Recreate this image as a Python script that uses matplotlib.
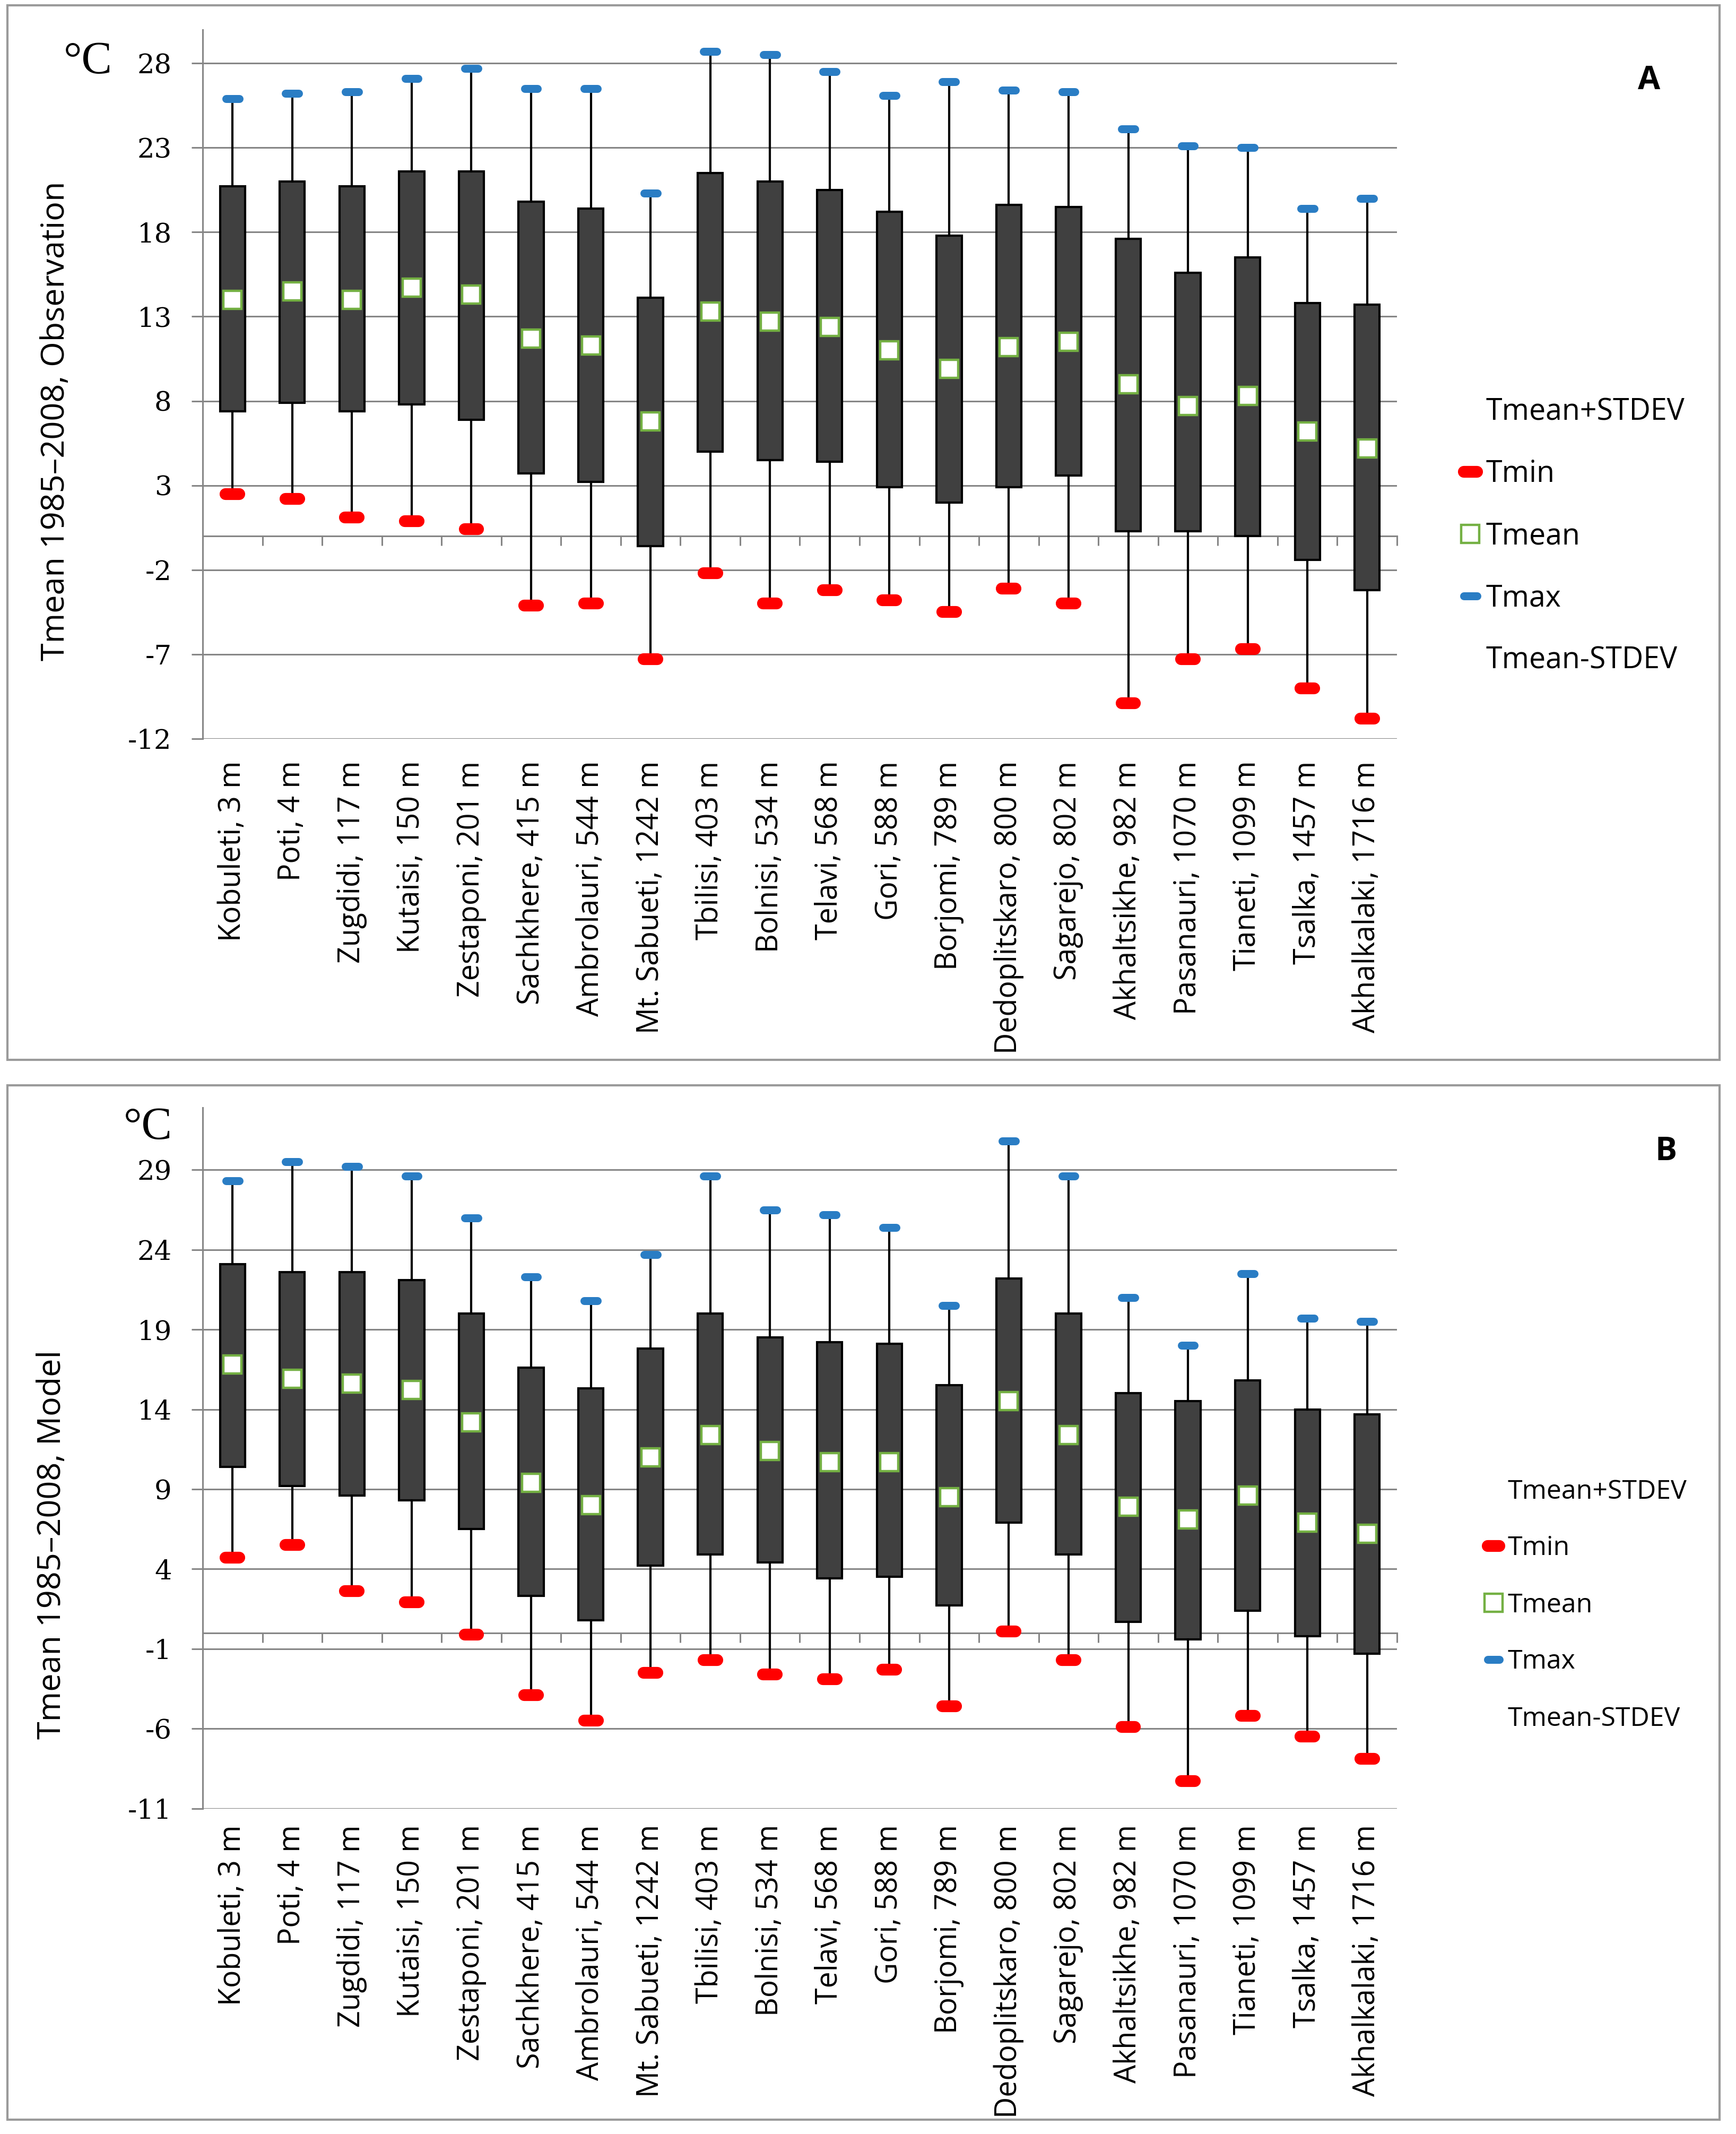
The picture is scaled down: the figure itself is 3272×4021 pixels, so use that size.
import matplotlib
matplotlib.use('Agg')
import matplotlib.pyplot as plt
from matplotlib.lines import Line2D
from matplotlib.patches import Rectangle

stations = ["Kobuleti, 3 m", "Poti, 4 m", "Zugdidi, 117 m", "Kutaisi, 150 m", "Zestaponi, 201 m",
            "Sachkhere, 415 m", "Ambrolauri, 544 m", "Mt. Sabueti, 1242 m", "Tbilisi, 403 m",
            "Bolnisi, 534 m", "Telavi, 568 m", "Gori, 588 m", "Borjomi, 789 m", "Dedoplitskaro, 800 m",
            "Sagarejo, 802 m", "Akhaltsikhe, 982 m", "Pasanauri, 1070 m", "Tianeti, 1099 m",
            "Tsalka, 1457 m", "Akhalkalaki, 1716 m"]

# Panel A: observation
obs_tmax = [25.9, 26.2, 26.3, 27.1, 27.7, 26.5, 26.5, 20.3, 28.7, 28.5, 27.5, 26.1, 26.9, 26.4, 26.3,
            24.1, 23.1, 23.0, 19.4, 20.0]
obs_upper = [20.7, 21.0, 20.7, 21.6, 21.6, 19.8, 19.4, 14.1, 21.5, 21.0, 20.5, 19.2, 17.8, 19.6, 19.5,
             17.6, 15.6, 16.5, 13.8, 13.7]
obs_mean = [14.0, 14.5, 14.0, 14.7, 14.3, 11.7, 11.3, 6.8, 13.3, 12.7, 12.4, 11.0, 9.9, 11.2, 11.5,
            9.0, 7.7, 8.3, 6.2, 5.2]
obs_lower = [7.4, 7.9, 7.4, 7.8, 6.9, 3.7, 3.2, -0.6, 5.0, 4.5, 4.4, 2.9, 2.0, 2.9, 3.6,
             0.3, 0.3, 0.0, -1.4, -3.2]
obs_tmin = [2.5, 2.2, 1.1, 0.9, 0.4, -4.1, -4.0, -7.3, -2.2, -4.0, -3.2, -3.8, -4.5, -3.1, -4.0,
            -9.9, -7.3, -6.7, -9.0, -10.8]

# Panel B: model
mod_tmax = [28.3, 29.5, 29.2, 28.6, 26.0, 22.3, 20.8, 23.7, 28.6, 26.5, 26.2, 25.4, 20.5, 30.8, 28.6,
            21.0, 18.0, 22.5, 19.7, 19.5]
mod_upper = [23.1, 22.6, 22.6, 22.1, 20.0, 16.6, 15.3, 17.8, 20.0, 18.5, 18.2, 18.1, 15.5, 22.2, 20.0,
             15.0, 14.5, 15.8, 14.0, 13.7]
mod_mean = [16.8, 15.9, 15.6, 15.2, 13.2, 9.4, 8.0, 11.0, 12.4, 11.4, 10.7, 10.7, 8.5, 14.5, 12.4,
            7.9, 7.1, 8.6, 6.9, 6.2]
mod_lower = [10.4, 9.2, 8.6, 8.3, 6.5, 2.3, 0.8, 4.2, 4.9, 4.4, 3.4, 3.5, 1.7, 6.9, 4.9,
             0.7, -0.4, 1.4, -0.2, -1.3]
mod_tmin = [4.7, 5.5, 2.6, 1.9, -0.1, -3.9, -5.5, -2.5, -1.7, -2.6, -2.9, -2.3, -4.6, 0.1, -1.7,
            -5.9, -9.3, -5.2, -6.5, -7.9]

obs_ticks = [-12, -7, -2, 3, 8, 13, 18, 23, 28]
mod_ticks = [-11, -6, -1, 4, 9, 14, 19, 24, 29]

W, H = 3273, 4021
DPI = 100
BOX = '#404040'
RED = '#ff0000'
BLUE = '#2a7dc4'
GREEN = '#74b043'
GRID = '#868686'

fig = plt.figure(figsize=(W / DPI, H / DPI), dpi=DPI)
fig.patch.set_facecolor('white')

# panel frames
for (y0, y1) in [(10, 1997), (2045, 3994)]:
    fig.add_artist(Rectangle((14 / W, 1 - y1 / H), (3241 - 14) / W, (y1 - y0) / H,
                             transform=fig.transFigure, fill=False, edgecolor='#9a9a9a', lw=3))


def draw_panel(ax, tmax, upper, mean, lower, tmin, ticks, ylim, xpad, legend_fs, leg_anchor, leg_spacing):
    x = list(range(len(stations)))
    heights = [u - l for u, l in zip(upper, lower)]
    ax.vlines(x, tmin, tmax, color='black', lw=3.0, zorder=2)
    ax.bar(x, heights, bottom=lower, width=0.42, color=BOX, edgecolor='black', lw=3, zorder=3)
    ax.hlines(tmax, [i - 0.11 for i in x], [i + 0.11 for i in x], color=BLUE, lw=10.8,
              capstyle='round', zorder=4)
    ax.hlines(tmin, [i - 0.115 for i in x], [i + 0.115 for i in x], color=RED, lw=16,
              capstyle='round', zorder=4)
    ax.plot(x, mean, ls='none', marker='s', ms=24, mfc='white', mec=GREEN, mew=3.2, zorder=5)

    ax.set_xlim(-0.5, len(stations) - 0.5)
    ax.set_ylim(*ylim)
    ax.set_yticks(ticks)
    ax.set_yticklabels([str(t) for t in ticks], family='DejaVu Serif', fontsize=37)
    ax.tick_params(axis='y', length=15, width=2.2, color=GRID, pad=27)
    ax.set_xticks(x)
    ax.set_xticklabels(stations, rotation=90, family='Open Sans', fontsize=40, va='top', ha='center')
    ax.tick_params(axis='x', length=0, pad=xpad)
    ax.grid(axis='y', color=GRID, lw=2.2)
    ax.set_axisbelow(True)
    for s in ['top', 'right', 'bottom']:
        ax.spines[s].set_visible(False)
    ax.spines['left'].set_color(GRID)
    ax.spines['left'].set_linewidth(2.2)

    zero_frac = (0 - ylim[0]) / (ylim[1] - ylim[0])
    sec = ax.secondary_xaxis(zero_frac)
    sec.set_xticks([i - 0.5 for i in range(len(stations) + 1)])
    sec.set_xticklabels([])
    sec.tick_params(axis='x', length=13, width=2.2, color=GRID, direction='out')
    sec.spines['bottom'].set_color(GRID)
    sec.spines['bottom'].set_linewidth(2.2)
    for s in ['top', 'left', 'right']:
        sec.spines[s].set_visible(False)

    handles = [Line2D([], [], ls='none'),
               Line2D([], [], color=RED, lw=16, solid_capstyle='round'),
               Line2D([], [], ls='none', marker='s', ms=24, mfc='white', mec=GREEN, mew=3.2),
               Line2D([], [], color=BLUE, lw=10.8, solid_capstyle='round'),
               Line2D([], [], ls='none')]
    labels = ['Tmean+STDEV', 'Tmin', 'Tmean', 'Tmax', 'Tmean-STDEV']
    fig.legend(handles, labels, loc='upper left', bbox_to_anchor=leg_anchor,
               bbox_transform=fig.transFigure, frameon=False, handlelength=0.45,
               handletextpad=0.3, labelspacing=leg_spacing, borderpad=0, borderaxespad=0,
               prop={'family': 'Open Sans', 'size': legend_fs})


axA = fig.add_axes([382 / W, 1 - 1392 / H, (2633 - 382) / W, (1392 - 55.5) / H])
draw_panel(axA, obs_tmax, obs_upper, obs_mean, obs_lower, obs_tmin, obs_ticks, (-12, 30), 30,
           40, (2759 / W, 1 - 748 / H), 1.08)
axB = fig.add_axes([382 / W, 1 - 3407.5 / H, (2633 - 382) / W, (3407.5 - 2087) / H])
draw_panel(axB, mod_tmax, mod_upper, mod_mean, mod_lower, mod_tmin, mod_ticks, (-11, 32.9), 22,
           36, (2804 / W, 1 - 2786 / H), 1.15)

fig.text(105 / W, 1 - 793 / H, 'Tmean 1985\u20132008, Observation', rotation=90, ha='center',
         va='center', family='Open Sans', fontsize=44)
fig.text(98 / W, 1 - 2910 / H, 'Tmean 1985\u20132008, Model', rotation=90, ha='center',
         va='center', family='Open Sans', fontsize=44)
fig.text(166 / W, 1 - 117 / H, '\u00b0C', ha='center', va='center', family='Liberation Serif', fontsize=62)
fig.text(279 / W, 1 - 2125 / H, '\u00b0C', ha='center', va='center', family='Liberation Serif', fontsize=62)
fig.text(3108 / W, 1 - 152 / H, 'A', ha='center', va='center', family='Open Sans', fontsize=44,
         fontweight='bold')
fig.text(3140 / W, 1 - 2170 / H, 'B', ha='center', va='center', family='Open Sans', fontsize=44,
         fontweight='bold')

fig.savefig('out.png', dpi=DPI, facecolor='white')
